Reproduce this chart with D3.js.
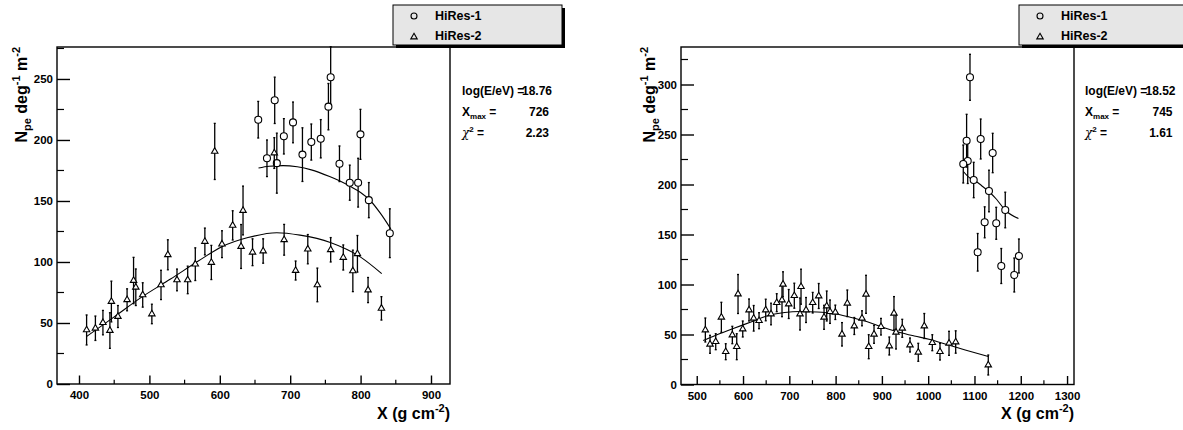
<!DOCTYPE html>
<html>
<head>
<meta charset="UTF-8">
<title>HiRes profiles</title>
<script src="https://d3js.org/d3.v7.min.js"></script>
<style>
  html, body { margin: 0; padding: 0; background: #fff; }
  svg { display: block; }
  text { font-family: "Liberation Sans", Arial, Helvetica, sans-serif; font-weight: bold; fill: #000; }
</style>
</head>
<body>
<svg id="chart" width="1183" height="430"></svg>
<script>
// ---- data ----
// left event
const leftH1X = [654.6, 667, 678, 681, 691, 704, 717.4, 730, 743.4, 754.3, 757.5, 770, 784.6, 796.5, 799.8, 811.7, 841.5];
const leftH1Y = [216.6, 185, 232.5, 181, 203, 214.4, 188, 198.3, 201, 227.3, 251.4, 180.5, 165, 165, 204.6, 150.7, 123.6];
const leftH1E = [15, 15, 19, 24.6, 14.5, 16.7, 22, 14.8, 15.7, 19, 25, 14.6, 14.4, 20, 20.5, 14.4, 20];

const leftH2X = [410.8, 423.3, 434, 443.9, 446, 455.3, 468.3, 477.5, 480.7, 490.5, 503.5, 516.5, 526.2, 539.2, 554.4, 565.2, 578.8, 588,
  592.8, 603.1, 618.3, 630.2, 633, 646.5, 661.6, 677.4, 691.4, 707.7, 725, 738.6, 757.5, 775.4, 789, 795.5, 810.6, 829.6];
const leftH2Y = [44.3, 45.7, 50.3, 43.8, 67.6, 55.3, 69, 84.8, 79.3, 73, 57.4, 81.2, 105.9, 85.3, 85.3, 98.2, 116.8, 99.6,
  190.6, 114.6, 130, 112.7, 142.2, 108, 109, 189.3, 118.2, 93, 110.5, 81.2, 110, 103.7, 92.7, 106.7, 77, 62];
const leftH2E = [12.3, 10, 10, 14.6, 16.7, 9, 9, 19, 15, 10, 8, 12, 12.3, 8.9, 11.3, 13.4, 11, 14,
  23, 11, 12, 18, 20, 11, 10, 12.6, 12.6, 7.8, 12, 13.8, 10, 10.3, 17, 15, 10.3, 9.6];

const leftFit1X = [655, 670, 690, 710, 730, 756, 770, 785, 800, 813, 828, 843];
const leftFit1Y = [177, 178.5, 179, 178, 175.5, 170, 166.5, 162, 157, 150.8, 140, 127];
const leftFit2X = [411, 450, 490, 530, 570, 603, 640, 681, 714, 757, 800, 830];
const leftFit2Y = [39, 55, 71.6, 86, 101, 112.5, 120, 124, 122, 116, 104, 90.5];

// right event
const rightH1X = [1090.3, 1083, 1085.4, 1075.8, 1113.4, 1139.3, 1098.3, 1131.3, 1166.5, 1122, 1147, 1106.9, 1157.9, 1196, 1186];
const rightH1Y = [307.2, 243.8, 223.5, 220.5, 245.5, 231.5, 204.5, 193.5, 174.5, 162.2, 161.2, 132.2, 118.5, 128.5, 109.5];
const rightH1E = [23, 26.4, 22.5, 19, 20, 19.7, 17.7, 20.8, 17.8, 15.5, 16, 18.8, 17.5, 17, 17];

const rightH2X = [518.6, 528.7, 541, 553.2, 562.6, 576.9, 586.4, 589.2, 599.4, 613, 623, 634.6, 649, 660.5, 672.8, 686.4,
  684.2, 698.7, 710.8, 725.3, 723.1, 736.1, 750.5, 763.5, 775, 780.8, 787.9, 799.4, 813.8, 825.3, 840.4, 857,
  865.7, 871.5, 883, 898, 916, 926.1, 930.5, 944, 960.7, 978.6, 991.6, 1008.9, 1025.5, 1045, 1059.4, 1129.8];
const rightH2Y = [54.5, 40.2, 42.8, 67.2, 32.8, 49.5, 37.8, 90.5, 55.5, 74.5, 66.2, 63.8, 74.5, 70.5, 81.8, 100.2,
  84.5, 80.5, 88.8, 97.8, 70.5, 74.5, 81.8, 88.5, 67.2, 78.5, 72.8, 72.2, 50.2, 81.2, 58.5, 66.2,
  90.2, 37.8, 50.2, 57.8, 38.5, 71.2, 52.2, 56.2, 39.5, 32.2, 58.5, 41.8, 32.8, 41.2, 42.5, 19.5];
const rightH2E = [12, 9, 8, 15, 8, 8.7, 13, 19.5, 8, 11, 12.8, 8, 10.8, 10.8, 9, 12.5,
  16.7, 14.5, 12.5, 17.5, 16, 12.5, 10.3, 12.5, 12, 15, 11.7, 7.2, 11.7, 13.3, 8.5, 7.5,
  19, 12, 9, 8.3, 9, 16.7, 16.7, 9, 7, 9, 12.5, 8, 8.3, 12, 11.2, 10];

const rightFit1X = [1076, 1090, 1099, 1115, 1131, 1148, 1166, 1195];
const rightFit1Y = [213, 206.5, 204.5, 199, 193, 185, 174.5, 166];
const rightFit2X = [514, 540, 579, 620, 651, 690, 723, 760, 795, 830, 867, 900, 939, 970, 1004, 1040, 1080, 1130];
const rightFit2Y = [44, 49, 56, 63, 68.5, 72, 73, 72.5, 71, 67.5, 63, 57.5, 52, 48.5, 45, 40, 34.5, 28];

// axis ticks
const leftXTicks = [400, 500, 600, 700, 800, 900];
const leftYTicks = [0, 50, 100, 150, 200, 250];
const rightXTicks = [500, 600, 700, 800, 900, 1000, 1100, 1200, 1300];
const rightYTicks = [0, 50, 100, 150, 200, 250, 300];

const seriesNames = ["HiRes-1", "HiRes-2"];
const leftStats = ["18.76", "726", "2.23"];
const rightStats = ["18.52", "745", "1.61"];

// ---- drawing ----
const svg = d3.select("#chart");
svg.append("rect").attr("width", 1183).attr("height", 430).attr("fill", "#fff");

const zip = (xs, ys, es) => xs.map((x, i) => ({x, y: ys[i], e: es ? es[i] : 0}));

function drawPanel(p) {
  const g = svg.append("g");
  const x = d3.scaleLinear().domain(p.xDomain).range([p.left, p.right]);
  const y = d3.scaleLinear().domain(p.yDomain).range([p.bottom, p.top]);

  // frame
  g.append("rect")
    .attr("x", p.left).attr("y", p.top)
    .attr("width", p.right - p.left).attr("height", p.bottom - p.top)
    .attr("fill", "none").attr("stroke", "#000").attr("stroke-width", 1.4);

  // y axis: ticks inside, pointing right
  const yAx = g.append("g").attr("transform", `translate(${p.left},0)`)
    .call(d3.axisLeft(y).tickValues(p.yTicks).tickSize(-13).tickPadding(4).tickFormat(d3.format("d")));
  yAx.select(".domain").remove();
  yAx.selectAll("text").attr("font-size", 11.5).attr("font-family", null);
  yAx.selectAll("line").attr("stroke-width", 1.4);
  const yMinor = d3.range(p.yDomain[0] + 25, p.yDomain[1], 50);
  g.selectAll(null).data(yMinor).join("line")
    .attr("x1", p.left).attr("x2", p.left + 7)
    .attr("y1", d => y(d)).attr("y2", d => y(d))
    .attr("stroke", "#000").attr("stroke-width", 1.2);

  // x axis: ticks inside, pointing up
  const xAx = g.append("g").attr("transform", `translate(0,${p.bottom})`)
    .call(d3.axisBottom(x).tickValues(p.xTicks).tickSize(-8.5).tickPadding(7).tickFormat(d3.format("d")));
  xAx.select(".domain").remove();
  xAx.selectAll("text").attr("font-size", 11.5).attr("font-family", null);
  xAx.selectAll("line").attr("stroke-width", 1.4);
  const xMinor = p.xTicks.slice(0, -1).map(d => d + 50);
  g.selectAll(null).data(xMinor).join("line")
    .attr("x1", d => x(d)).attr("x2", d => x(d))
    .attr("y1", p.bottom).attr("y2", p.bottom - 4.3)
    .attr("stroke", "#000").attr("stroke-width", 1.2);

  // axis titles
  const xt = g.append("text").attr("x", p.right).attr("y", 419)
    .attr("text-anchor", "end").attr("font-size", 16);
  xt.append("tspan").text("X (g cm");
  xt.append("tspan").attr("font-size", 11).attr("dy", -7).text("-2");
  xt.append("tspan").attr("dy", 7).text(")");

  const yt = g.append("text")
    .attr("transform", `translate(${p.yTitleX},${p.top})rotate(-90)`)
    .attr("text-anchor", "end").attr("font-size", 16);
  yt.append("tspan").text("N");
  yt.append("tspan").attr("font-size", 11).attr("dy", 4).text("pe");
  yt.append("tspan").attr("dy", -4).text(" deg");
  yt.append("tspan").attr("font-size", 11).attr("dy", -7).text("-1");
  yt.append("tspan").attr("dy", 7).text(" m");
  yt.append("tspan").attr("font-size", 11).attr("dy", -7).text("-2");

  // fits
  const line = d3.line().x(d => x(d.x)).y(d => y(d.y)).curve(d3.curveMonotoneX);
  p.fits.forEach(f => {
    g.append("path").datum(zip(f[0], f[1])).attr("d", line)
      .attr("fill", "none").attr("stroke", "#000").attr("stroke-width", 1.1);
  });

  // error bars and markers
  const tri = d3.symbol(d3.symbolTriangle, 18)();
  p.series.forEach((s, k) => {
    const pts = zip(s[0], s[1], s[2]);
    const eb = g.append("g").attr("stroke", "#000").attr("stroke-width", 1.3);
    eb.selectAll("line.v").data(pts).join("line").attr("class", "v")
      .attr("x1", d => x(d.x)).attr("x2", d => x(d.x))
      .attr("y1", d => y(d.y - d.e)).attr("y2", d => y(d.y + d.e));
    eb.selectAll("line.t").data(pts).join("line").attr("class", "t")
      .attr("x1", d => x(d.x) - 1).attr("x2", d => x(d.x) + 1)
      .attr("y1", d => y(d.y + d.e)).attr("y2", d => y(d.y + d.e));
    eb.selectAll("line.b").data(pts).join("line").attr("class", "b")
      .attr("x1", d => x(d.x) - 1).attr("x2", d => x(d.x) + 1)
      .attr("y1", d => y(d.y - d.e)).attr("y2", d => y(d.y - d.e));
    if (k === 0) {
      g.selectAll(null).data(pts).join("circle")
        .attr("cx", d => x(d.x)).attr("cy", d => y(d.y)).attr("r", 3.5)
        .attr("fill", "#fff").attr("stroke", "#000").attr("stroke-width", 1.1);
    } else {
      g.selectAll(null).data(pts).join("path")
        .attr("d", tri).attr("transform", d => `translate(${x(d.x)},${y(d.y)})`)
        .attr("fill", "#fff").attr("stroke", "#000").attr("stroke-width", 1.1);
    }
  });

  // legend box with shadow
  const L = p.legend;
  g.append("rect").attr("x", L.x + 3).attr("y", L.y + 3).attr("width", L.w).attr("height", L.h).attr("fill", "#000");
  g.append("rect").attr("x", L.x).attr("y", L.y).attr("width", L.w).attr("height", L.h)
    .attr("fill", "#e6e6e6").attr("stroke", "#000").attr("stroke-width", 1);
  seriesNames.forEach((n, i) => {
    const cy = L.y + 11 + i * 20;
    if (i === 0) {
      g.append("circle").attr("cx", L.x + 21).attr("cy", cy).attr("r", 3)
        .attr("fill", "none").attr("stroke", "#000").attr("stroke-width", 1.1);
    } else {
      g.append("path").attr("d", tri).attr("transform", `translate(${L.x + 21},${cy + 1})`)
        .attr("fill", "none").attr("stroke", "#000").attr("stroke-width", 1.1);
    }
    g.append("text").attr("x", L.x + 42).attr("y", cy + 4).attr("font-size", 12.5).text(n);
  });

  // fit statistics
  const S = p.stats;
  g.append("text").attr("x", S.x).attr("y", 95).attr("font-size", 12).text("log(E/eV) =");
  g.append("text").attr("x", S.xv + 3).attr("y", 95).attr("font-size", 12).attr("text-anchor", "end").text(S.v[0]);
  const xm = g.append("text").attr("x", S.x).attr("y", 116).attr("font-size", 12);
  xm.append("tspan").text("X");
  xm.append("tspan").attr("font-size", 8).attr("dy", 3).text("max");
  xm.append("tspan").attr("dy", -3).text(" =");
  g.append("text").attr("x", S.xv).attr("y", 116).attr("font-size", 12).attr("text-anchor", "end").text(S.v[1]);
  const ch = g.append("text").attr("x", S.x).attr("y", 137).attr("font-size", 12);
  ch.append("tspan").attr("font-weight", "normal").attr("font-family", "DejaVu Serif, serif").attr("font-style", "italic").text("χ");
  ch.append("tspan").attr("font-size", 8).attr("dy", -5).text("2");
  ch.append("tspan").attr("dy", 5).text(" =");
  g.append("text").attr("x", S.xv).attr("y", 137).attr("font-size", 12).attr("text-anchor", "end").text(S.v[2]);
}

drawPanel({
  left: 57, right: 450, top: 47, bottom: 384, yTitleX: 27,
  xDomain: [368.75, 927], yDomain: [0, 276.2],
  xTicks: leftXTicks, yTicks: leftYTicks,
  series: [[leftH1X, leftH1Y, leftH1E], [leftH2X, leftH2Y, leftH2E]],
  fits: [[leftFit1X, leftFit1Y], [leftFit2X, leftFit2Y]],
  legend: {x: 393, y: 5, w: 169, h: 40},
  stats: {x: 462, xv: 549, v: leftStats}
});

drawPanel({
  left: 681, right: 1074, top: 47, bottom: 384.5, yTitleX: 655,
  xDomain: [466, 1315], yDomain: [0, 337.5],
  xTicks: rightXTicks, yTicks: rightYTicks,
  series: [[rightH1X, rightH1Y, rightH1E], [rightH2X, rightH2Y, rightH2E]],
  fits: [[rightFit1X, rightFit1Y], [rightFit2X, rightFit2Y]],
  legend: {x: 1019, y: 5, w: 169, h: 40},
  stats: {x: 1085, xv: 1172.5, v: rightStats}
});
</script>
</body>
</html>
